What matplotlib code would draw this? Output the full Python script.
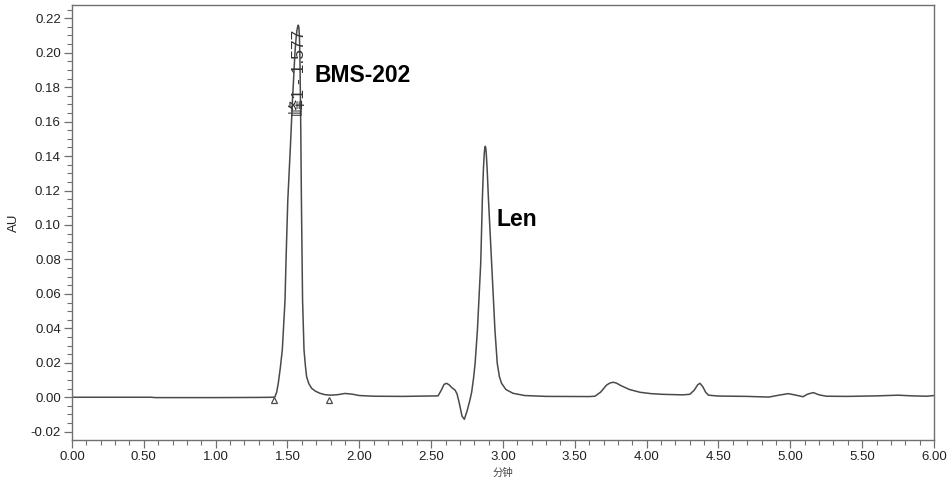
import matplotlib
matplotlib.use("Agg")
import matplotlib.pyplot as plt
from matplotlib.ticker import MultipleLocator, FormatStrFormatter

# Trace (time in min, absorbance in AU)
time_min = [0.00, 0.55, 0.58, 1.00, 1.30, 1.40, 1.413, 1.425, 1.436, 1.450,
            1.464, 1.483, 1.49, 1.502, 1.52, 1.535, 1.552, 1.560, 1.566, 1.571,
            1.575, 1.579, 1.583, 1.587, 1.592, 1.597, 1.605, 1.615, 1.625, 1.633,
            1.648, 1.668, 1.695, 1.726, 1.76, 1.80, 1.85, 1.90, 1.95, 2.00,
            2.10, 2.30, 2.548, 2.57, 2.59, 2.608, 2.625, 2.645, 2.666, 2.68,
            2.696, 2.715, 2.731, 2.75, 2.77, 2.782, 2.795, 2.806, 2.822, 2.845,
            2.857, 2.864, 2.870, 2.874, 2.877, 2.880, 2.884, 2.890, 2.898, 2.921,
            2.944, 2.96, 2.975, 2.99, 3.02, 3.07, 3.15, 3.30, 3.60, 3.64,
            3.68, 3.70, 3.72, 3.745, 3.768, 3.79, 3.82, 3.88, 3.953, 4.03,
            4.11, 4.25, 4.30, 4.33, 4.355, 4.371, 4.39, 4.41, 4.43, 4.50,
            4.70, 4.85, 4.92, 4.986, 5.04, 5.088, 5.12, 5.16, 5.20, 5.25,
            5.40, 5.60, 5.75, 5.85, 5.95, 6.00]
absorbance = [0.0000, 0.0000, -0.0002, -0.0002, -0.0001, 0.0000, 0.0003, 0.003, 0.0081, 0.017,
              0.0275, 0.0565, 0.080, 0.114, 0.145, 0.1727, 0.2000, 0.2085, 0.2130, 0.2152,
              0.2160, 0.2150, 0.2100, 0.1950, 0.1600, 0.114, 0.0565, 0.0275, 0.018, 0.012,
              0.008, 0.0052, 0.0035, 0.0023, 0.0015, 0.0012, 0.0015, 0.0022, 0.0018, 0.0010,
              0.0006, 0.0005, 0.0008, 0.004, 0.0075, 0.0081, 0.0072, 0.0055, 0.0042, 0.002,
              -0.0035, -0.011, -0.0128, -0.008, -0.0016, 0.003, 0.011, 0.0197, 0.039, 0.0778,
              0.1165, 0.1330, 0.1420, 0.1450, 0.1457, 0.1448, 0.1410, 0.1320, 0.1165, 0.0778,
              0.039, 0.0197, 0.012, 0.0081, 0.0045, 0.0023, 0.0010, 0.0005, 0.0004, 0.0006,
              0.003, 0.0050, 0.0070, 0.0083, 0.0087, 0.0082, 0.0068, 0.0045, 0.0029, 0.0021,
              0.0017, 0.0014, 0.0017, 0.004, 0.0072, 0.0081, 0.0062, 0.003, 0.0012, 0.0007,
              0.0005, 0.0001, 0.0012, 0.0021, 0.0012, 0.0003, 0.0018, 0.0027, 0.0014, 0.0006,
              0.0005, 0.0008, 0.0012, 0.0008, 0.0006, 0.0010]

# Integration markers (peak start / end)
marker_times = [1.406, 1.789]
marker_values = [-0.0018, -0.0018]

peak_label = "峰1 - 1.577"
peak_label_pos = (1.577, 0.1630)
compound_names = ["BMS-202", "Len"]
compound_pos = [(1.691, 0.187), (2.958, 0.1029)]

plt.rcParams['font.family'] = ['Liberation Sans', 'Noto Sans CJK SC', 'DejaVu Sans']

fig = plt.figure(figsize=(9.52, 4.86), dpi=100)
ax = fig.add_axes([0.0756, 0.0947, 0.9055, 0.895])

line_color = "#4a4a4a"
ax.plot(time_min, absorbance, color=line_color, lw=1.1, solid_joinstyle='round')
ax.plot(marker_times, marker_values, linestyle='none', marker='^', markersize=5,
        markerfacecolor='white', markeredgecolor=line_color, markeredgewidth=0.9)

ax.text(peak_label_pos[0], peak_label_pos[1], peak_label, rotation=90,
        ha='center', va='bottom', fontsize=12.5, color='#333333',
        family=['Liberation Sans', 'Noto Sans CJK SC'])
for name, (x, y) in zip(compound_names, compound_pos):
    ax.text(x, y, name, fontsize=16.5, fontweight='bold', ha='left', va='center',
            color='black')

ax.set_xlim(0, 6.0)
ax.set_ylim(-0.0248, 0.2277)
ax.xaxis.set_major_locator(MultipleLocator(0.5))
ax.xaxis.set_minor_locator(MultipleLocator(0.1))
ax.yaxis.set_major_locator(MultipleLocator(0.02))
ax.yaxis.set_minor_locator(MultipleLocator(0.005))
ax.xaxis.set_major_formatter(FormatStrFormatter('%.2f'))
ax.yaxis.set_major_formatter(FormatStrFormatter('%.2f'))

spine_color = "#707070"
for s in ax.spines.values():
    s.set_color(spine_color)
    s.set_linewidth(1.0)
ax.tick_params(which='major', direction='out', length=6, width=0.9, color=spine_color,
               labelsize=9.5, labelcolor='#222222', pad=2)
ax.tick_params(which='minor', direction='out', length=3.5, width=0.8, color=spine_color)

ax.set_ylabel("AU", fontsize=9.5, color='#222222', labelpad=8)
ax.set_xlabel("分钟", fontsize=7.5, color='#444444', labelpad=3,
              family=['Noto Sans CJK SC', 'DejaVu Sans'])

fig.savefig("out.png", dpi=100, facecolor='white')
